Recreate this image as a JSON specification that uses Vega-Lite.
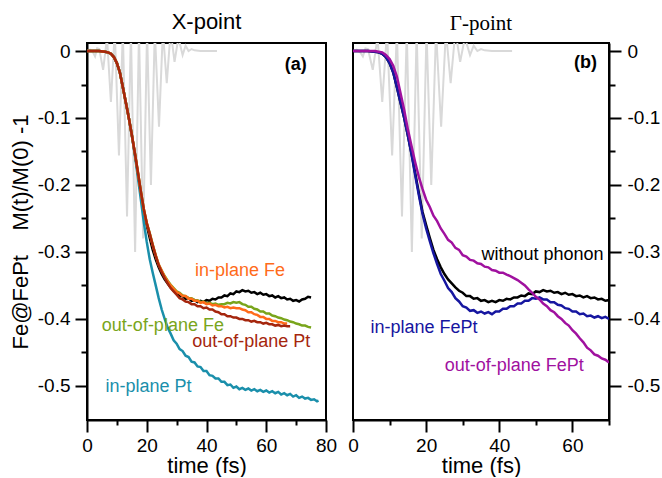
{
  "$schema": "https://vega.github.io/schema/vega-lite/v6.json",
  "background": "white",
  "padding": {"left": 8, "top": 10, "right": 0, "bottom": 0},
  "spacing": 27,
  "bounds": "flush",
  "config": {
    "font": "Liberation Sans",
    "view": {"stroke": "black", "strokeWidth": 2},
    "axis": {"grid": false, "domainColor": "black", "domainWidth": 2, "tickColor": "black", "tickWidth": 2, "labelColor": "black", "labelFont": "Liberation Sans", "labelFontSize": 19, "titleFont": "Liberation Sans", "titleFontSize": 22, "titleFontWeight": "normal", "titleColor": "black", "labelFlush": false, "labelOverlap": false},
    "title": {"fontSize": 22, "fontWeight": "normal", "color": "black", "font": "Liberation Sans"}
  },
  "resolve": {"scale": {"color": "independent"}},
  "datasets": {
    "pulse": [
      {"t":0,"v":0},{"t":1,"v":0.002},{"t":2,"v":-0.002},{"t":2.7,"v":-0.008},{"t":3.4,"v":0.004},{"t":4.1,"v":0.003},{"t":5.4,"v":-0.028},{"t":6.7,"v":0.02},{"t":8.0,"v":-0.076},{"t":9.3,"v":0.03},{"t":10.7,"v":-0.156},{"t":12.0,"v":0.03},{"t":13.4,"v":-0.247},{"t":14.7,"v":0.03},{"t":16.1,"v":-0.30},{"t":17.4,"v":0.03},{"t":18.8,"v":-0.28},{"t":20.1,"v":0.03},{"t":21.4,"v":-0.20},{"t":22.7,"v":0.03},{"t":24.1,"v":-0.113},{"t":25.4,"v":0.03},{"t":26.7,"v":-0.048},{"t":28.0,"v":0.03},{"t":29.3,"v":-0.016},{"t":30.6,"v":0.02},{"t":32.0,"v":-0.006},{"t":33.0,"v":0.008},{"t":34,"v":0.0},{"t":35,"v":0.003},{"t":36,"v":0.001},{"t":38,"v":0.0},{"t":43.5,"v":0.0}
    ],
    "black": [
      {"t":0,"v":0},{"t":2,"v":0},{"t":4,"v":0},{"t":6,"v":-0.001},{"t":7,"v":-0.002},{"t":8,"v":-0.004},{"t":9,"v":-0.009},{"t":10,"v":-0.018},{"t":11,"v":-0.032},{"t":12,"v":-0.054},{"t":13,"v":-0.077},{"t":14,"v":-0.100},{"t":15,"v":-0.126},{"t":16,"v":-0.153},{"t":17,"v":-0.182},{"t":18,"v":-0.212},{"t":19,"v":-0.240},{"t":20,"v":-0.260},{"t":21,"v":-0.279},{"t":22,"v":-0.297},{"t":23,"v":-0.311},{"t":24,"v":-0.323},{"t":25,"v":-0.333},{"t":26,"v":-0.341},{"t":27,"v":-0.347},{"t":28,"v":-0.353},{"t":29,"v":-0.358},{"t":30,"v":-0.361},{"t":31,"v":-0.366},{"t":32,"v":-0.366},{"t":33,"v":-0.370},{"t":34,"v":-0.369},{"t":35,"v":-0.373},{"t":36,"v":-0.372},{"t":37,"v":-0.375},{"t":38,"v":-0.373},{"t":39,"v":-0.375},{"t":40,"v":-0.372},{"t":41,"v":-0.373},{"t":42,"v":-0.370},{"t":43,"v":-0.371},{"t":44,"v":-0.368},{"t":45,"v":-0.368},{"t":46,"v":-0.365},{"t":47,"v":-0.366},{"t":48,"v":-0.362},{"t":49,"v":-0.363},{"t":50,"v":-0.359},{"t":51,"v":-0.360},{"t":52,"v":-0.357},{"t":53,"v":-0.359},{"t":54,"v":-0.358},{"t":55,"v":-0.361},{"t":56,"v":-0.360},{"t":57,"v":-0.363},{"t":58,"v":-0.361},{"t":59,"v":-0.364},{"t":60,"v":-0.363},{"t":61,"v":-0.366},{"t":62,"v":-0.365},{"t":63,"v":-0.368},{"t":64,"v":-0.366},{"t":65,"v":-0.369},{"t":66,"v":-0.368},{"t":67,"v":-0.371},{"t":68,"v":-0.370},{"t":69,"v":-0.373},{"t":70,"v":-0.372},{"t":71,"v":-0.374},{"t":72,"v":-0.371},{"t":73,"v":-0.370},{"t":74,"v":-0.367},{"t":75,"v":-0.368}
    ],
    "left": [
      {"s":"in-plane Pt","t":0,"v":0},{"s":"in-plane Pt","t":4,"v":0},{"s":"in-plane Pt","t":6,"v":-0.001},{"s":"in-plane Pt","t":7,"v":-0.002},{"s":"in-plane Pt","t":8,"v":-0.004},{"s":"in-plane Pt","t":9,"v":-0.009},{"s":"in-plane Pt","t":10,"v":-0.018},{"s":"in-plane Pt","t":11,"v":-0.032},{"s":"in-plane Pt","t":12,"v":-0.054},{"s":"in-plane Pt","t":13,"v":-0.077},{"s":"in-plane Pt","t":14,"v":-0.100},{"s":"in-plane Pt","t":15,"v":-0.125},{"s":"in-plane Pt","t":16,"v":-0.155},{"s":"in-plane Pt","t":17,"v":-0.187},{"s":"in-plane Pt","t":18,"v":-0.221},{"s":"in-plane Pt","t":19,"v":-0.255},{"s":"in-plane Pt","t":20,"v":-0.285},{"s":"in-plane Pt","t":21,"v":-0.311},{"s":"in-plane Pt","t":22,"v":-0.331},{"s":"in-plane Pt","t":23,"v":-0.350},{"s":"in-plane Pt","t":24,"v":-0.369},{"s":"in-plane Pt","t":25,"v":-0.386},{"s":"in-plane Pt","t":26,"v":-0.400},{"s":"in-plane Pt","t":27,"v":-0.413},{"s":"in-plane Pt","t":28,"v":-0.422},{"s":"in-plane Pt","t":29,"v":-0.432},{"s":"in-plane Pt","t":30,"v":-0.437},{"s":"in-plane Pt","t":31,"v":-0.445},{"s":"in-plane Pt","t":32,"v":-0.448},{"s":"in-plane Pt","t":33,"v":-0.455},{"s":"in-plane Pt","t":34,"v":-0.457},{"s":"in-plane Pt","t":35,"v":-0.464},{"s":"in-plane Pt","t":36,"v":-0.465},{"s":"in-plane Pt","t":37,"v":-0.471},{"s":"in-plane Pt","t":38,"v":-0.472},{"s":"in-plane Pt","t":39,"v":-0.478},{"s":"in-plane Pt","t":40,"v":-0.478},{"s":"in-plane Pt","t":41,"v":-0.484},{"s":"in-plane Pt","t":42,"v":-0.485},{"s":"in-plane Pt","t":43,"v":-0.489},{"s":"in-plane Pt","t":44,"v":-0.489},{"s":"in-plane Pt","t":45,"v":-0.494},{"s":"in-plane Pt","t":46,"v":-0.494},{"s":"in-plane Pt","t":47,"v":-0.499},{"s":"in-plane Pt","t":48,"v":-0.498},{"s":"in-plane Pt","t":49,"v":-0.503},{"s":"in-plane Pt","t":50,"v":-0.501},{"s":"in-plane Pt","t":51,"v":-0.505},{"s":"in-plane Pt","t":52,"v":-0.503},{"s":"in-plane Pt","t":53,"v":-0.506},{"s":"in-plane Pt","t":54,"v":-0.504},{"s":"in-plane Pt","t":55,"v":-0.507},{"s":"in-plane Pt","t":56,"v":-0.505},{"s":"in-plane Pt","t":57,"v":-0.508},{"s":"in-plane Pt","t":58,"v":-0.506},{"s":"in-plane Pt","t":59,"v":-0.509},{"s":"in-plane Pt","t":60,"v":-0.507},{"s":"in-plane Pt","t":61,"v":-0.510},{"s":"in-plane Pt","t":62,"v":-0.508},{"s":"in-plane Pt","t":63,"v":-0.511},{"s":"in-plane Pt","t":64,"v":-0.509},{"s":"in-plane Pt","t":65,"v":-0.513},{"s":"in-plane Pt","t":66,"v":-0.511},{"s":"in-plane Pt","t":67,"v":-0.514},{"s":"in-plane Pt","t":68,"v":-0.512},{"s":"in-plane Pt","t":69,"v":-0.516},{"s":"in-plane Pt","t":70,"v":-0.514},{"s":"in-plane Pt","t":71,"v":-0.518},{"s":"in-plane Pt","t":72,"v":-0.516},{"s":"in-plane Pt","t":73,"v":-0.519},{"s":"in-plane Pt","t":74,"v":-0.518},{"s":"in-plane Pt","t":75,"v":-0.521},{"s":"in-plane Pt","t":76,"v":-0.520},{"s":"in-plane Pt","t":77,"v":-0.523},{"s":"in-plane Pt","t":77.5,"v":-0.522},

      {"s":"out-of-plane Fe","t":0,"v":0},{"s":"out-of-plane Fe","t":4,"v":0},{"s":"out-of-plane Fe","t":6,"v":-0.001},{"s":"out-of-plane Fe","t":7,"v":-0.002},{"s":"out-of-plane Fe","t":8,"v":-0.004},{"s":"out-of-plane Fe","t":9,"v":-0.009},{"s":"out-of-plane Fe","t":10,"v":-0.018},{"s":"out-of-plane Fe","t":11,"v":-0.032},{"s":"out-of-plane Fe","t":12,"v":-0.054},{"s":"out-of-plane Fe","t":13,"v":-0.077},{"s":"out-of-plane Fe","t":14,"v":-0.100},{"s":"out-of-plane Fe","t":15,"v":-0.125},{"s":"out-of-plane Fe","t":16,"v":-0.152},{"s":"out-of-plane Fe","t":17,"v":-0.180},{"s":"out-of-plane Fe","t":18,"v":-0.209},{"s":"out-of-plane Fe","t":19,"v":-0.236},{"s":"out-of-plane Fe","t":20,"v":-0.257},{"s":"out-of-plane Fe","t":21,"v":-0.272},{"s":"out-of-plane Fe","t":22,"v":-0.289},{"s":"out-of-plane Fe","t":23,"v":-0.305},{"s":"out-of-plane Fe","t":24,"v":-0.319},{"s":"out-of-plane Fe","t":25,"v":-0.328},{"s":"out-of-plane Fe","t":26,"v":-0.336},{"s":"out-of-plane Fe","t":27,"v":-0.343},{"s":"out-of-plane Fe","t":28,"v":-0.349},{"s":"out-of-plane Fe","t":29,"v":-0.354},{"s":"out-of-plane Fe","t":30,"v":-0.359},{"s":"out-of-plane Fe","t":31,"v":-0.361},{"s":"out-of-plane Fe","t":32,"v":-0.365},{"s":"out-of-plane Fe","t":33,"v":-0.366},{"s":"out-of-plane Fe","t":34,"v":-0.369},{"s":"out-of-plane Fe","t":35,"v":-0.369},{"s":"out-of-plane Fe","t":36,"v":-0.372},{"s":"out-of-plane Fe","t":37,"v":-0.372},{"s":"out-of-plane Fe","t":38,"v":-0.375},{"s":"out-of-plane Fe","t":39,"v":-0.374},{"s":"out-of-plane Fe","t":40,"v":-0.377},{"s":"out-of-plane Fe","t":41,"v":-0.376},{"s":"out-of-plane Fe","t":42,"v":-0.378},{"s":"out-of-plane Fe","t":43,"v":-0.377},{"s":"out-of-plane Fe","t":44,"v":-0.379},{"s":"out-of-plane Fe","t":45,"v":-0.378},{"s":"out-of-plane Fe","t":46,"v":-0.378},{"s":"out-of-plane Fe","t":47,"v":-0.376},{"s":"out-of-plane Fe","t":48,"v":-0.377},{"s":"out-of-plane Fe","t":49,"v":-0.375},{"s":"out-of-plane Fe","t":50,"v":-0.376},{"s":"out-of-plane Fe","t":51,"v":-0.375},{"s":"out-of-plane Fe","t":52,"v":-0.378},{"s":"out-of-plane Fe","t":53,"v":-0.379},{"s":"out-of-plane Fe","t":54,"v":-0.382},{"s":"out-of-plane Fe","t":55,"v":-0.382},{"s":"out-of-plane Fe","t":56,"v":-0.385},{"s":"out-of-plane Fe","t":57,"v":-0.386},{"s":"out-of-plane Fe","t":58,"v":-0.389},{"s":"out-of-plane Fe","t":59,"v":-0.389},{"s":"out-of-plane Fe","t":60,"v":-0.392},{"s":"out-of-plane Fe","t":61,"v":-0.392},{"s":"out-of-plane Fe","t":62,"v":-0.395},{"s":"out-of-plane Fe","t":63,"v":-0.396},{"s":"out-of-plane Fe","t":64,"v":-0.398},{"s":"out-of-plane Fe","t":65,"v":-0.399},{"s":"out-of-plane Fe","t":66,"v":-0.401},{"s":"out-of-plane Fe","t":67,"v":-0.402},{"s":"out-of-plane Fe","t":68,"v":-0.404},{"s":"out-of-plane Fe","t":69,"v":-0.405},{"s":"out-of-plane Fe","t":70,"v":-0.407},{"s":"out-of-plane Fe","t":71,"v":-0.408},{"s":"out-of-plane Fe","t":72,"v":-0.410},{"s":"out-of-plane Fe","t":73,"v":-0.410},{"s":"out-of-plane Fe","t":74,"v":-0.412},{"s":"out-of-plane Fe","t":75,"v":-0.413},

      {"s":"in-plane Fe","t":0,"v":0},{"s":"in-plane Fe","t":4,"v":0},{"s":"in-plane Fe","t":6,"v":-0.001},{"s":"in-plane Fe","t":7,"v":-0.002},{"s":"in-plane Fe","t":8,"v":-0.004},{"s":"in-plane Fe","t":9,"v":-0.009},{"s":"in-plane Fe","t":10,"v":-0.018},{"s":"in-plane Fe","t":11,"v":-0.032},{"s":"in-plane Fe","t":12,"v":-0.054},{"s":"in-plane Fe","t":13,"v":-0.077},{"s":"in-plane Fe","t":14,"v":-0.100},{"s":"in-plane Fe","t":15,"v":-0.125},{"s":"in-plane Fe","t":16,"v":-0.152},{"s":"in-plane Fe","t":17,"v":-0.180},{"s":"in-plane Fe","t":18,"v":-0.209},{"s":"in-plane Fe","t":19,"v":-0.236},{"s":"in-plane Fe","t":20,"v":-0.257},{"s":"in-plane Fe","t":21,"v":-0.273},{"s":"in-plane Fe","t":22,"v":-0.290},{"s":"in-plane Fe","t":23,"v":-0.305},{"s":"in-plane Fe","t":24,"v":-0.319},{"s":"in-plane Fe","t":25,"v":-0.328},{"s":"in-plane Fe","t":26,"v":-0.337},{"s":"in-plane Fe","t":27,"v":-0.344},{"s":"in-plane Fe","t":28,"v":-0.350},{"s":"in-plane Fe","t":29,"v":-0.355},{"s":"in-plane Fe","t":30,"v":-0.360},{"s":"in-plane Fe","t":31,"v":-0.362},{"s":"in-plane Fe","t":32,"v":-0.366},{"s":"in-plane Fe","t":33,"v":-0.366},{"s":"in-plane Fe","t":34,"v":-0.370},{"s":"in-plane Fe","t":35,"v":-0.370},{"s":"in-plane Fe","t":36,"v":-0.373},{"s":"in-plane Fe","t":37,"v":-0.373},{"s":"in-plane Fe","t":38,"v":-0.376},{"s":"in-plane Fe","t":39,"v":-0.375},{"s":"in-plane Fe","t":40,"v":-0.378},{"s":"in-plane Fe","t":41,"v":-0.377},{"s":"in-plane Fe","t":42,"v":-0.380},{"s":"in-plane Fe","t":43,"v":-0.379},{"s":"in-plane Fe","t":44,"v":-0.381},{"s":"in-plane Fe","t":45,"v":-0.381},{"s":"in-plane Fe","t":46,"v":-0.383},{"s":"in-plane Fe","t":47,"v":-0.382},{"s":"in-plane Fe","t":48,"v":-0.384},{"s":"in-plane Fe","t":49,"v":-0.383},{"s":"in-plane Fe","t":50,"v":-0.384},{"s":"in-plane Fe","t":51,"v":-0.384},{"s":"in-plane Fe","t":52,"v":-0.386},{"s":"in-plane Fe","t":53,"v":-0.387},{"s":"in-plane Fe","t":54,"v":-0.390},{"s":"in-plane Fe","t":55,"v":-0.390},{"s":"in-plane Fe","t":56,"v":-0.393},{"s":"in-plane Fe","t":57,"v":-0.394},{"s":"in-plane Fe","t":58,"v":-0.397},{"s":"in-plane Fe","t":59,"v":-0.397},{"s":"in-plane Fe","t":60,"v":-0.400},{"s":"in-plane Fe","t":61,"v":-0.400},{"s":"in-plane Fe","t":62,"v":-0.403},{"s":"in-plane Fe","t":63,"v":-0.403},{"s":"in-plane Fe","t":64,"v":-0.405},{"s":"in-plane Fe","t":65,"v":-0.405},{"s":"in-plane Fe","t":66,"v":-0.407},{"s":"in-plane Fe","t":67,"v":-0.407},

      {"s":"out-of-plane Pt","t":0,"v":0},{"s":"out-of-plane Pt","t":4,"v":0},{"s":"out-of-plane Pt","t":6,"v":-0.001},{"s":"out-of-plane Pt","t":7,"v":-0.002},{"s":"out-of-plane Pt","t":8,"v":-0.004},{"s":"out-of-plane Pt","t":9,"v":-0.009},{"s":"out-of-plane Pt","t":10,"v":-0.018},{"s":"out-of-plane Pt","t":11,"v":-0.032},{"s":"out-of-plane Pt","t":12,"v":-0.054},{"s":"out-of-plane Pt","t":13,"v":-0.077},{"s":"out-of-plane Pt","t":14,"v":-0.100},{"s":"out-of-plane Pt","t":15,"v":-0.125},{"s":"out-of-plane Pt","t":16,"v":-0.152},{"s":"out-of-plane Pt","t":17,"v":-0.180},{"s":"out-of-plane Pt","t":18,"v":-0.209},{"s":"out-of-plane Pt","t":19,"v":-0.236},{"s":"out-of-plane Pt","t":20,"v":-0.257},{"s":"out-of-plane Pt","t":21,"v":-0.273},{"s":"out-of-plane Pt","t":22,"v":-0.290},{"s":"out-of-plane Pt","t":23,"v":-0.306},{"s":"out-of-plane Pt","t":24,"v":-0.320},{"s":"out-of-plane Pt","t":25,"v":-0.330},{"s":"out-of-plane Pt","t":26,"v":-0.339},{"s":"out-of-plane Pt","t":27,"v":-0.347},{"s":"out-of-plane Pt","t":28,"v":-0.354},{"s":"out-of-plane Pt","t":29,"v":-0.359},{"s":"out-of-plane Pt","t":30,"v":-0.364},{"s":"out-of-plane Pt","t":31,"v":-0.369},{"s":"out-of-plane Pt","t":32,"v":-0.371},{"s":"out-of-plane Pt","t":33,"v":-0.374},{"s":"out-of-plane Pt","t":34,"v":-0.375},{"s":"out-of-plane Pt","t":35,"v":-0.378},{"s":"out-of-plane Pt","t":36,"v":-0.378},{"s":"out-of-plane Pt","t":37,"v":-0.381},{"s":"out-of-plane Pt","t":38,"v":-0.381},{"s":"out-of-plane Pt","t":39,"v":-0.384},{"s":"out-of-plane Pt","t":40,"v":-0.383},{"s":"out-of-plane Pt","t":41,"v":-0.386},{"s":"out-of-plane Pt","t":42,"v":-0.386},{"s":"out-of-plane Pt","t":43,"v":-0.389},{"s":"out-of-plane Pt","t":44,"v":-0.390},{"s":"out-of-plane Pt","t":45,"v":-0.393},{"s":"out-of-plane Pt","t":46,"v":-0.393},{"s":"out-of-plane Pt","t":47,"v":-0.396},{"s":"out-of-plane Pt","t":48,"v":-0.396},{"s":"out-of-plane Pt","t":49,"v":-0.398},{"s":"out-of-plane Pt","t":50,"v":-0.398},{"s":"out-of-plane Pt","t":51,"v":-0.400},{"s":"out-of-plane Pt","t":52,"v":-0.400},{"s":"out-of-plane Pt","t":53,"v":-0.402},{"s":"out-of-plane Pt","t":54,"v":-0.402},{"s":"out-of-plane Pt","t":55,"v":-0.404},{"s":"out-of-plane Pt","t":56,"v":-0.403},{"s":"out-of-plane Pt","t":57,"v":-0.405},{"s":"out-of-plane Pt","t":58,"v":-0.405},{"s":"out-of-plane Pt","t":59,"v":-0.407},{"s":"out-of-plane Pt","t":60,"v":-0.406},{"s":"out-of-plane Pt","t":61,"v":-0.408},{"s":"out-of-plane Pt","t":62,"v":-0.408},{"s":"out-of-plane Pt","t":63,"v":-0.410},{"s":"out-of-plane Pt","t":64,"v":-0.409},{"s":"out-of-plane Pt","t":65,"v":-0.411},{"s":"out-of-plane Pt","t":66,"v":-0.410},{"s":"out-of-plane Pt","t":67,"v":-0.411},{"s":"out-of-plane Pt","t":68,"v":-0.411}
    ],
    "right": [
      {"s":"in-plane FePt","t":0,"v":0},{"s":"in-plane FePt","t":4,"v":0},{"s":"in-plane FePt","t":6,"v":-0.001},{"s":"in-plane FePt","t":7,"v":-0.002},{"s":"in-plane FePt","t":8,"v":-0.004},{"s":"in-plane FePt","t":9,"v":-0.009},{"s":"in-plane FePt","t":10,"v":-0.018},{"s":"in-plane FePt","t":11,"v":-0.032},{"s":"in-plane FePt","t":12,"v":-0.054},{"s":"in-plane FePt","t":13,"v":-0.077},{"s":"in-plane FePt","t":14,"v":-0.100},{"s":"in-plane FePt","t":15,"v":-0.126},{"s":"in-plane FePt","t":16,"v":-0.154},{"s":"in-plane FePt","t":17,"v":-0.185},{"s":"in-plane FePt","t":18,"v":-0.215},{"s":"in-plane FePt","t":19,"v":-0.243},{"s":"in-plane FePt","t":20,"v":-0.265},{"s":"in-plane FePt","t":21,"v":-0.284},{"s":"in-plane FePt","t":22,"v":-0.302},{"s":"in-plane FePt","t":23,"v":-0.318},{"s":"in-plane FePt","t":24,"v":-0.333},{"s":"in-plane FePt","t":25,"v":-0.343},{"s":"in-plane FePt","t":26,"v":-0.354},{"s":"in-plane FePt","t":27,"v":-0.360},{"s":"in-plane FePt","t":28,"v":-0.369},{"s":"in-plane FePt","t":29,"v":-0.374},{"s":"in-plane FePt","t":30,"v":-0.381},{"s":"in-plane FePt","t":31,"v":-0.383},{"s":"in-plane FePt","t":32,"v":-0.388},{"s":"in-plane FePt","t":33,"v":-0.387},{"s":"in-plane FePt","t":34,"v":-0.391},{"s":"in-plane FePt","t":35,"v":-0.389},{"s":"in-plane FePt","t":36,"v":-0.392},{"s":"in-plane FePt","t":37,"v":-0.390},{"s":"in-plane FePt","t":38,"v":-0.393},{"s":"in-plane FePt","t":39,"v":-0.389},{"s":"in-plane FePt","t":40,"v":-0.389},{"s":"in-plane FePt","t":41,"v":-0.385},{"s":"in-plane FePt","t":42,"v":-0.385},{"s":"in-plane FePt","t":43,"v":-0.381},{"s":"in-plane FePt","t":44,"v":-0.381},{"s":"in-plane FePt","t":45,"v":-0.377},{"s":"in-plane FePt","t":46,"v":-0.377},{"s":"in-plane FePt","t":47,"v":-0.373},{"s":"in-plane FePt","t":48,"v":-0.373},{"s":"in-plane FePt","t":49,"v":-0.369},{"s":"in-plane FePt","t":50,"v":-0.370},{"s":"in-plane FePt","t":51,"v":-0.368},{"s":"in-plane FePt","t":52,"v":-0.371},{"s":"in-plane FePt","t":53,"v":-0.371},{"s":"in-plane FePt","t":54,"v":-0.375},{"s":"in-plane FePt","t":55,"v":-0.375},{"s":"in-plane FePt","t":56,"v":-0.379},{"s":"in-plane FePt","t":57,"v":-0.380},{"s":"in-plane FePt","t":58,"v":-0.384},{"s":"in-plane FePt","t":59,"v":-0.385},{"s":"in-plane FePt","t":60,"v":-0.389},{"s":"in-plane FePt","t":61,"v":-0.389},{"s":"in-plane FePt","t":62,"v":-0.393},{"s":"in-plane FePt","t":63,"v":-0.392},{"s":"in-plane FePt","t":64,"v":-0.396},{"s":"in-plane FePt","t":65,"v":-0.395},{"s":"in-plane FePt","t":66,"v":-0.398},{"s":"in-plane FePt","t":67,"v":-0.396},{"s":"in-plane FePt","t":68,"v":-0.399},{"s":"in-plane FePt","t":69,"v":-0.397},{"s":"in-plane FePt","t":70,"v":-0.400},

      {"s":"out-of-plane FePt","t":0,"v":0},{"s":"out-of-plane FePt","t":4,"v":0},{"s":"out-of-plane FePt","t":6,"v":0},{"s":"out-of-plane FePt","t":7,"v":-0.001},{"s":"out-of-plane FePt","t":8,"v":-0.002},{"s":"out-of-plane FePt","t":9,"v":-0.006},{"s":"out-of-plane FePt","t":10,"v":-0.012},{"s":"out-of-plane FePt","t":11,"v":-0.022},{"s":"out-of-plane FePt","t":12,"v":-0.038},{"s":"out-of-plane FePt","t":13,"v":-0.063},{"s":"out-of-plane FePt","t":14,"v":-0.088},{"s":"out-of-plane FePt","t":15,"v":-0.117},{"s":"out-of-plane FePt","t":16,"v":-0.142},{"s":"out-of-plane FePt","t":17,"v":-0.166},{"s":"out-of-plane FePt","t":18,"v":-0.188},{"s":"out-of-plane FePt","t":19,"v":-0.206},{"s":"out-of-plane FePt","t":20,"v":-0.222},{"s":"out-of-plane FePt","t":21,"v":-0.233},{"s":"out-of-plane FePt","t":22,"v":-0.246},{"s":"out-of-plane FePt","t":23,"v":-0.254},{"s":"out-of-plane FePt","t":24,"v":-0.265},{"s":"out-of-plane FePt","t":25,"v":-0.273},{"s":"out-of-plane FePt","t":26,"v":-0.282},{"s":"out-of-plane FePt","t":27,"v":-0.286},{"s":"out-of-plane FePt","t":28,"v":-0.294},{"s":"out-of-plane FePt","t":29,"v":-0.297},{"s":"out-of-plane FePt","t":30,"v":-0.305},{"s":"out-of-plane FePt","t":31,"v":-0.307},{"s":"out-of-plane FePt","t":32,"v":-0.312},{"s":"out-of-plane FePt","t":33,"v":-0.313},{"s":"out-of-plane FePt","t":34,"v":-0.317},{"s":"out-of-plane FePt","t":35,"v":-0.318},{"s":"out-of-plane FePt","t":36,"v":-0.322},{"s":"out-of-plane FePt","t":37,"v":-0.323},{"s":"out-of-plane FePt","t":38,"v":-0.327},{"s":"out-of-plane FePt","t":39,"v":-0.328},{"s":"out-of-plane FePt","t":40,"v":-0.331},{"s":"out-of-plane FePt","t":41,"v":-0.331},{"s":"out-of-plane FePt","t":42,"v":-0.334},{"s":"out-of-plane FePt","t":43,"v":-0.336},{"s":"out-of-plane FePt","t":44,"v":-0.339},{"s":"out-of-plane FePt","t":45,"v":-0.342},{"s":"out-of-plane FePt","t":46,"v":-0.346},{"s":"out-of-plane FePt","t":47,"v":-0.350},{"s":"out-of-plane FePt","t":48,"v":-0.356},{"s":"out-of-plane FePt","t":49,"v":-0.361},{"s":"out-of-plane FePt","t":50,"v":-0.367},{"s":"out-of-plane FePt","t":51,"v":-0.371},{"s":"out-of-plane FePt","t":52,"v":-0.377},{"s":"out-of-plane FePt","t":53,"v":-0.381},{"s":"out-of-plane FePt","t":54,"v":-0.387},{"s":"out-of-plane FePt","t":55,"v":-0.390},{"s":"out-of-plane FePt","t":56,"v":-0.396},{"s":"out-of-plane FePt","t":57,"v":-0.400},{"s":"out-of-plane FePt","t":58,"v":-0.406},{"s":"out-of-plane FePt","t":59,"v":-0.410},{"s":"out-of-plane FePt","t":60,"v":-0.417},{"s":"out-of-plane FePt","t":61,"v":-0.422},{"s":"out-of-plane FePt","t":62,"v":-0.429},{"s":"out-of-plane FePt","t":63,"v":-0.435},{"s":"out-of-plane FePt","t":64,"v":-0.443},{"s":"out-of-plane FePt","t":65,"v":-0.447},{"s":"out-of-plane FePt","t":66,"v":-0.453},{"s":"out-of-plane FePt","t":67,"v":-0.455},{"s":"out-of-plane FePt","t":68,"v":-0.459},{"s":"out-of-plane FePt","t":69,"v":-0.461},{"s":"out-of-plane FePt","t":70,"v":-0.465}
    ],
    "leftText": [
      {"t":51.2,"v":-0.329,"s":"in-plane Fe"},
      {"t":25.4,"v":-0.411,"s":"out-of-plane Fe"},
      {"t":55,"v":-0.434,"s":"out-of-plane Pt"},
      {"t":20.6,"v":-0.501,"s":"in-plane Pt"}
    ],
    "rightText": [
      {"t":51.8,"v":-0.304,"s":"without phonon"},
      {"t":19.4,"v":-0.413,"s":"in-plane FePt"},
      {"t":44.1,"v":-0.470,"s":"out-of-plane FePt"}
    ],
    "tagA": [{"t":69.9,"v":-0.021,"s":"(a)"}],
    "tagB": [{"t":63.6,"v":-0.018,"s":"(b)"}]
  },
  "hconcat": [
    {
      "width": 239,
      "height": 377,
      "title": {"text": "X-point", "offset": 8},
      "encoding": {
        "x": {"field": "t", "type": "quantitative", "scale": {"domain": [0, 80], "nice": false, "zero": false},
          "axis": {"title": "time (fs)", "values": [0,10,20,30,40,50,60,70,80], "tickSize": {"condition": {"test": "datum.value % 20 != 0", "value": 5}, "value": 12}, "labelExpr": "datum.value % 20 == 0 ? '' + datum.value : ''", "labelPadding": 4, "titlePadding": 0}},
        "y": {"field": "v", "type": "quantitative", "scale": {"domain": [-0.551, 0.012], "nice": false, "zero": false},
          "axis": {"title": "Fe@FePt\u00a0\u00a0\u00a0\u00a0M(t)/M(0) -1", "values": [0,-0.05,-0.1,-0.15,-0.2,-0.25,-0.3,-0.35,-0.4,-0.45,-0.5], "tickSize": {"condition": {"test": "round(abs(datum.value)*100) % 10 != 0", "value": 6}, "value": 12}, "labelExpr": "round(abs(datum.value)*100) % 10 != 0 ? '' : (datum.value == 0 ? '0' : '-0.' + round(abs(datum.value)*10))", "labelPadding": 5, "titlePadding": 5}}
      },
      "layer": [
        {"data": {"name": "pulse"}, "mark": {"type": "line", "color": "#d9d9d9", "strokeWidth": 2, "clip": true}},
        {"data": {"name": "black"}, "mark": {"type": "line", "color": "#000000", "strokeWidth": 2.5, "clip": true}},
        {"data": {"name": "left"}, "mark": {"type": "line", "strokeWidth": 2.5, "clip": true},
          "encoding": {"color": {"field": "s", "type": "nominal", "legend": null, "scale": {"domain": ["in-plane Pt","out-of-plane Fe","in-plane Fe","out-of-plane Pt"], "range": ["#1a8fab","#79a51b","#ff6b1a","#a5260d"]}}}},
        {"data": {"name": "leftText"}, "mark": {"type": "text", "fontSize": 18, "align": "center", "baseline": "middle"},
          "encoding": {"text": {"field": "s"}, "color": {"field": "s", "type": "nominal", "legend": null, "scale": {"domain": ["in-plane Pt","out-of-plane Fe","in-plane Fe","out-of-plane Pt"], "range": ["#1a8fab","#79a51b","#ff6b1a","#a5260d"]}}}},
        {"data": {"name": "tagA"}, "mark": {"type": "text", "fontSize": 18, "fontWeight": "bold", "align": "center", "baseline": "middle", "color": "black"},
          "encoding": {"text": {"field": "s"}}}
      ]
    },
    {
      "width": 256,
      "height": 377,
      "title": {"text": "Γ-point", "offset": 8, "font": "Liberation Serif", "fontSize": 21},
      "encoding": {
        "x": {"field": "t", "type": "quantitative", "scale": {"domain": [0, 70], "nice": false, "zero": false},
          "axis": {"title": "time (fs)", "values": [0,10,20,30,40,50,60,70], "tickSize": {"condition": {"test": "datum.value % 20 != 0", "value": 5}, "value": 12}, "labelExpr": "datum.value % 20 == 0 ? '' + datum.value : ''", "labelPadding": 4, "titlePadding": 0}},
        "y": {"field": "v", "type": "quantitative", "scale": {"domain": [-0.551, 0.012], "nice": false, "zero": false},
          "axis": {"orient": "right", "title": null, "values": [0,-0.05,-0.1,-0.15,-0.2,-0.25,-0.3,-0.35,-0.4,-0.45,-0.5], "tickSize": {"condition": {"test": "round(abs(datum.value)*100) % 10 != 0", "value": 6}, "value": 12}, "labelExpr": "round(abs(datum.value)*100) % 10 != 0 ? '' : (datum.value == 0 ? '0' : '-0.' + round(abs(datum.value)*10))", "labelPadding": 6}}
      },
      "layer": [
        {"data": {"name": "pulse"}, "mark": {"type": "line", "color": "#d9d9d9", "strokeWidth": 2, "clip": true}},
        {"data": {"name": "black"}, "mark": {"type": "line", "color": "#000000", "strokeWidth": 2.5, "clip": true}},
        {"data": {"name": "right"}, "mark": {"type": "line", "strokeWidth": 2.5, "clip": true},
          "encoding": {"color": {"field": "s", "type": "nominal", "legend": null, "scale": {"domain": ["without phonon","in-plane FePt","out-of-plane FePt"], "range": ["#000000","#1616a0","#a0119f"]}}}},
        {"data": {"name": "rightText"}, "mark": {"type": "text", "fontSize": 18, "align": "center", "baseline": "middle"},
          "encoding": {"text": {"field": "s"}, "color": {"field": "s", "type": "nominal", "legend": null, "scale": {"domain": ["without phonon","in-plane FePt","out-of-plane FePt"], "range": ["#000000","#1616a0","#a0119f"]}}}},
        {"data": {"name": "tagB"}, "mark": {"type": "text", "fontSize": 18, "fontWeight": "bold", "align": "center", "baseline": "middle", "color": "black"},
          "encoding": {"text": {"field": "s"}}}
      ]
    }
  ]
}
